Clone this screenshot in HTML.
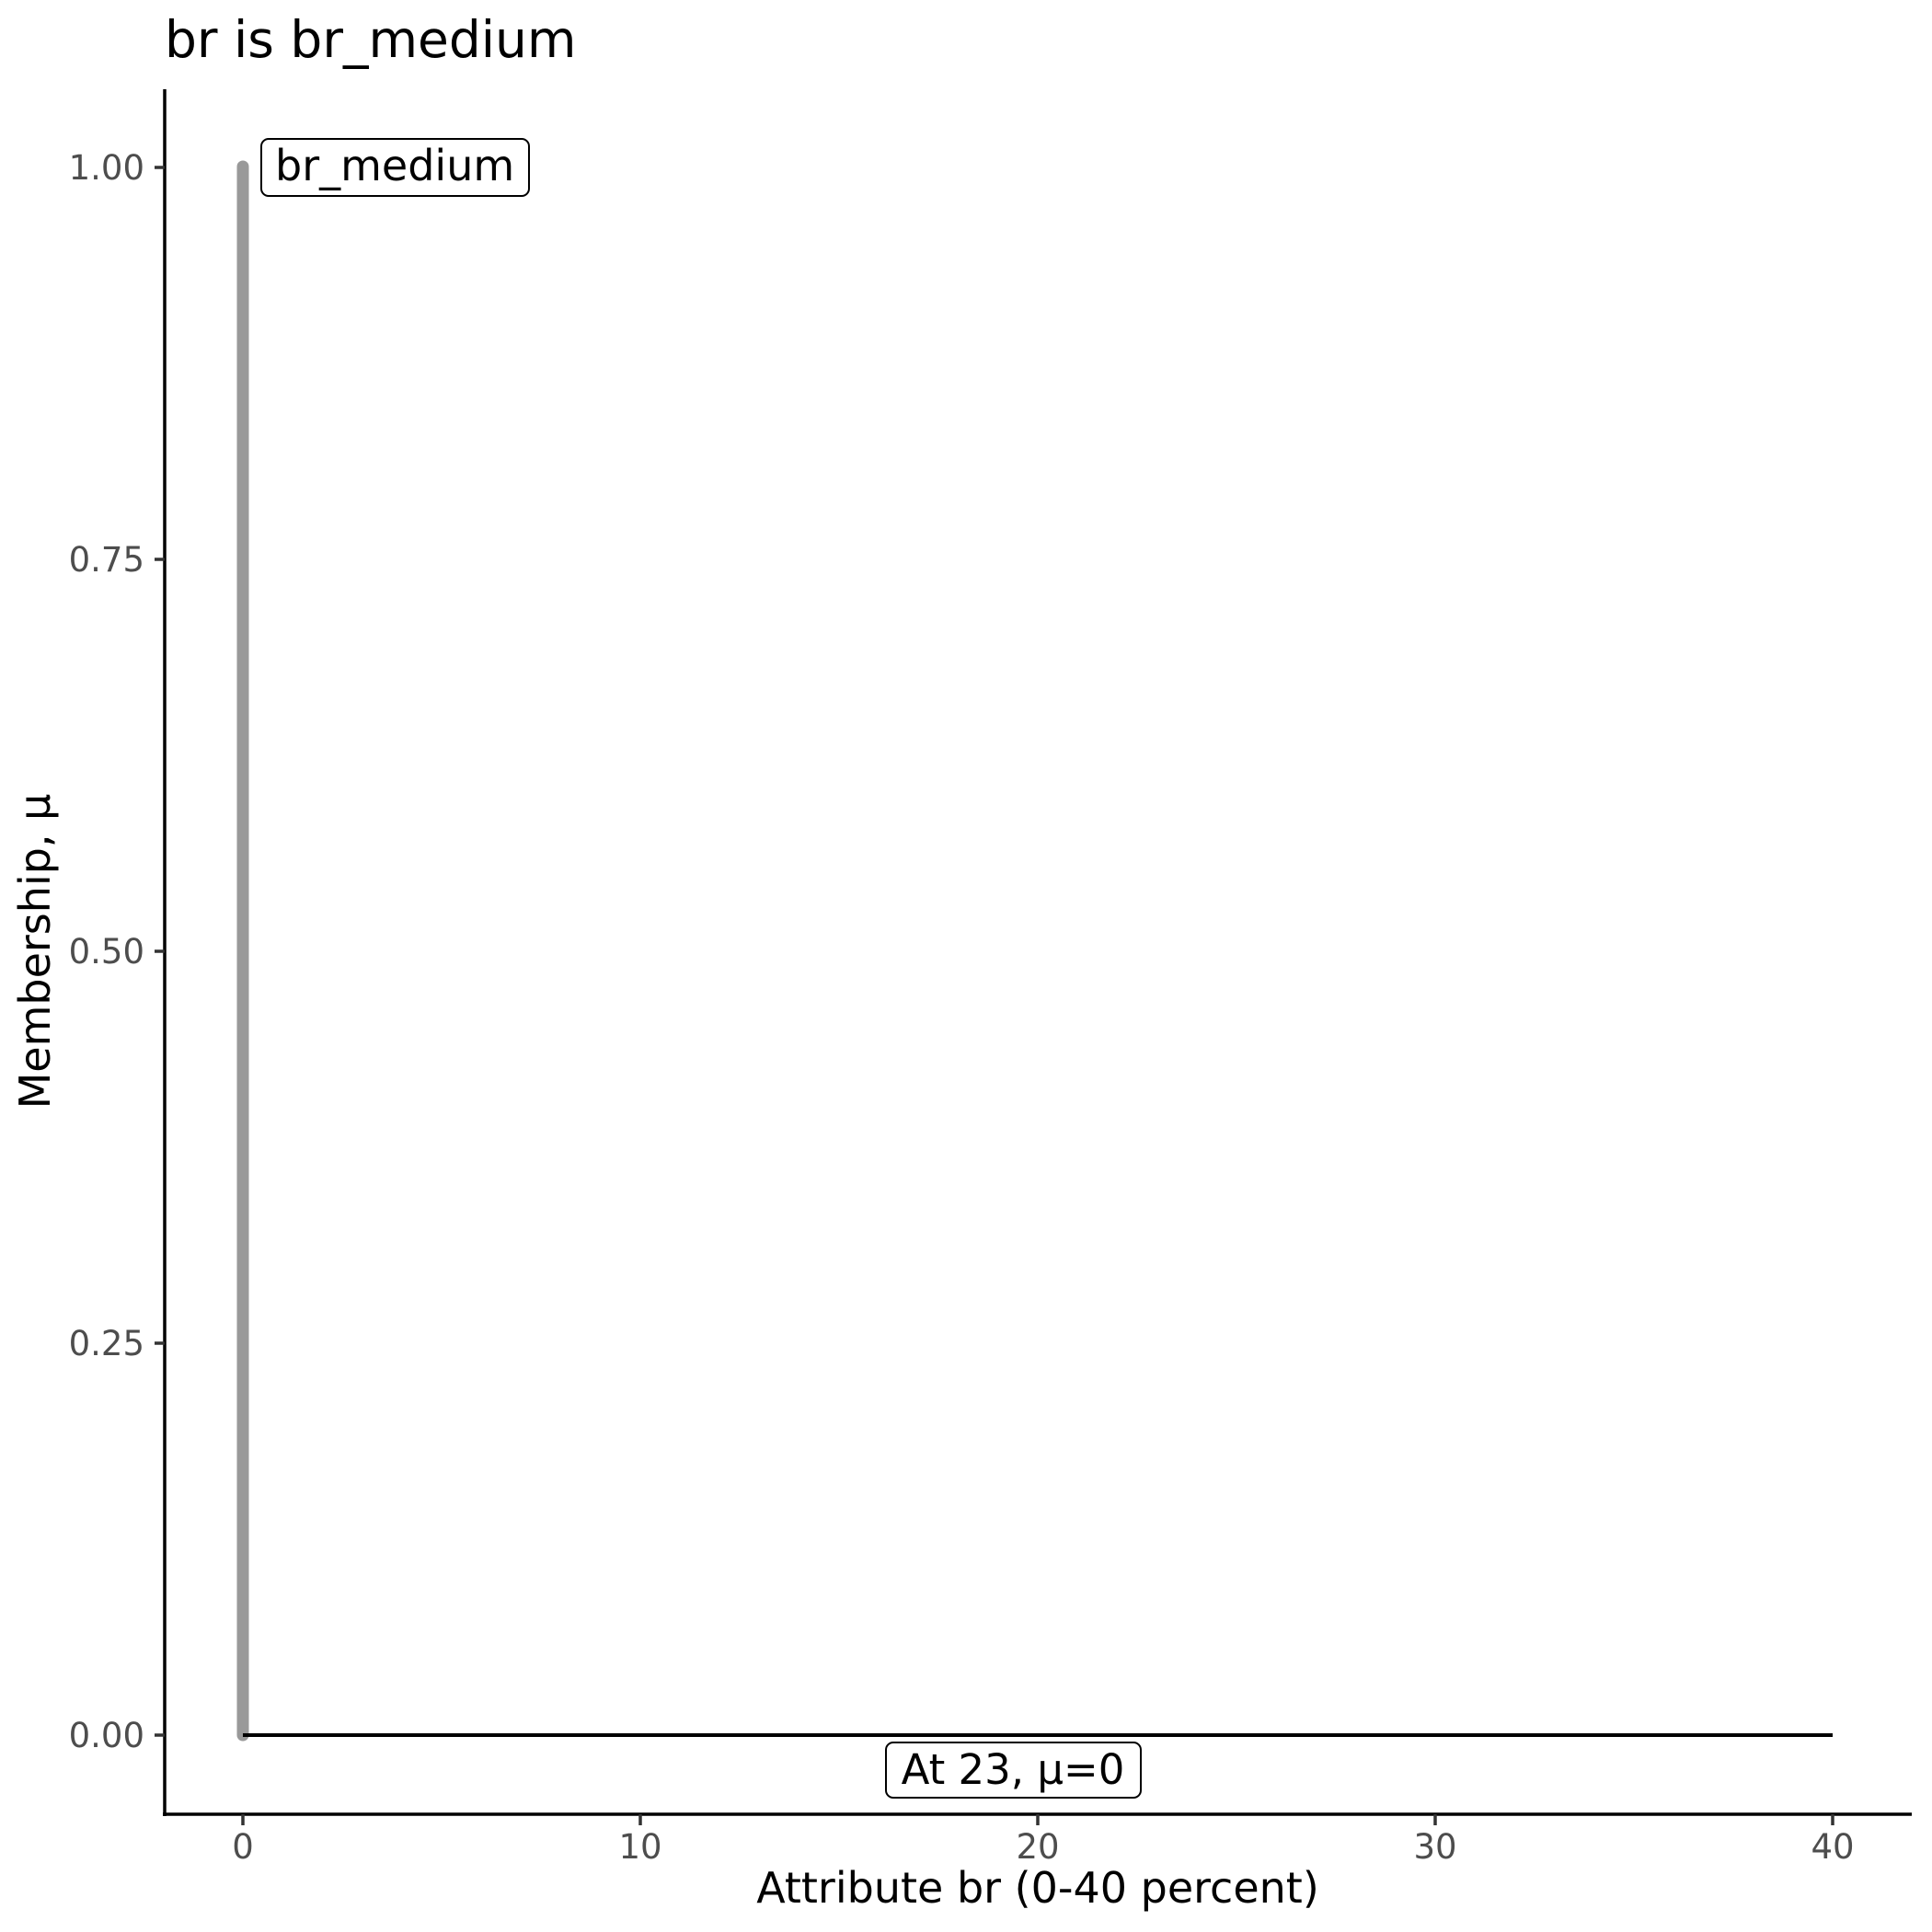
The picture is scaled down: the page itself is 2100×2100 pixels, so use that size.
<!DOCTYPE html>
<html><head><meta charset="utf-8"><style>
html,body{margin:0;padding:0;background:#fff;}
svg{display:block;font-family:"DejaVu Sans","Liberation Sans",sans-serif;}
</style></head><body>
<svg width="2100" height="2100" viewBox="0 0 2100 2100" xmlns="http://www.w3.org/2000/svg">
<rect width="2100" height="2100" fill="#fff"/>
<text x="179" y="62" font-size="55" fill="#000">br is br_medium</text>
<line x1="179" y1="97" x2="179" y2="1974" stroke="#000" stroke-width="3.5"/>
<line x1="177" y1="1972" x2="2078" y2="1972" stroke="#000" stroke-width="3.5"/>
<g stroke="#333" stroke-width="3.5">
<line x1="168" y1="182" x2="179" y2="182"/>
<line x1="168" y1="608" x2="179" y2="608"/>
<line x1="168" y1="1034" x2="179" y2="1034"/>
<line x1="168" y1="1460" x2="179" y2="1460"/>
<line x1="168" y1="1886" x2="179" y2="1886"/>
</g>
<g font-size="37" fill="#4d4d4d" text-anchor="end">
<text x="157" y="195">1.00</text>
<text x="157" y="621">0.75</text>
<text x="157" y="1047">0.50</text>
<text x="157" y="1473">0.25</text>
<text x="157" y="1899">0.00</text>
</g>
<g stroke="#333" stroke-width="3.5">
<line x1="264" y1="1972" x2="264" y2="1984"/>
<line x1="696" y1="1972" x2="696" y2="1984"/>
<line x1="1128" y1="1972" x2="1128" y2="1984"/>
<line x1="1560" y1="1972" x2="1560" y2="1984"/>
<line x1="1992" y1="1972" x2="1992" y2="1984"/>
</g>
<g font-size="37" fill="#4d4d4d" text-anchor="middle">
<text x="264" y="2020">0</text>
<text x="696" y="2020">10</text>
<text x="1128" y="2020">20</text>
<text x="1560" y="2020">30</text>
<text x="1992" y="2020">40</text>
</g>
<text x="1128" y="2068" font-size="46" text-anchor="middle" fill="#000">Attribute br (0-40 percent)</text>
<text transform="translate(54,1034) rotate(-90)" font-size="46" text-anchor="middle" fill="#000">Membership, μ</text>
<line x1="264" y1="181" x2="264" y2="1886" stroke="#999" stroke-width="13" stroke-linecap="round"/>
<line x1="264" y1="1886" x2="1992" y2="1886" stroke="#000" stroke-width="4"/>
<rect x="284" y="151" width="291" height="62" rx="8" fill="#fff" stroke="#000" stroke-width="2"/>
<text x="299" y="196" font-size="46" fill="#000">br_medium</text>
<rect x="963" y="1894" width="277" height="60" rx="8" fill="#fff" stroke="#000" stroke-width="2"/>
<text x="1101" y="1939" font-size="45" fill="#000" text-anchor="middle">At 23, μ=0</text>
</svg>
</body></html>
